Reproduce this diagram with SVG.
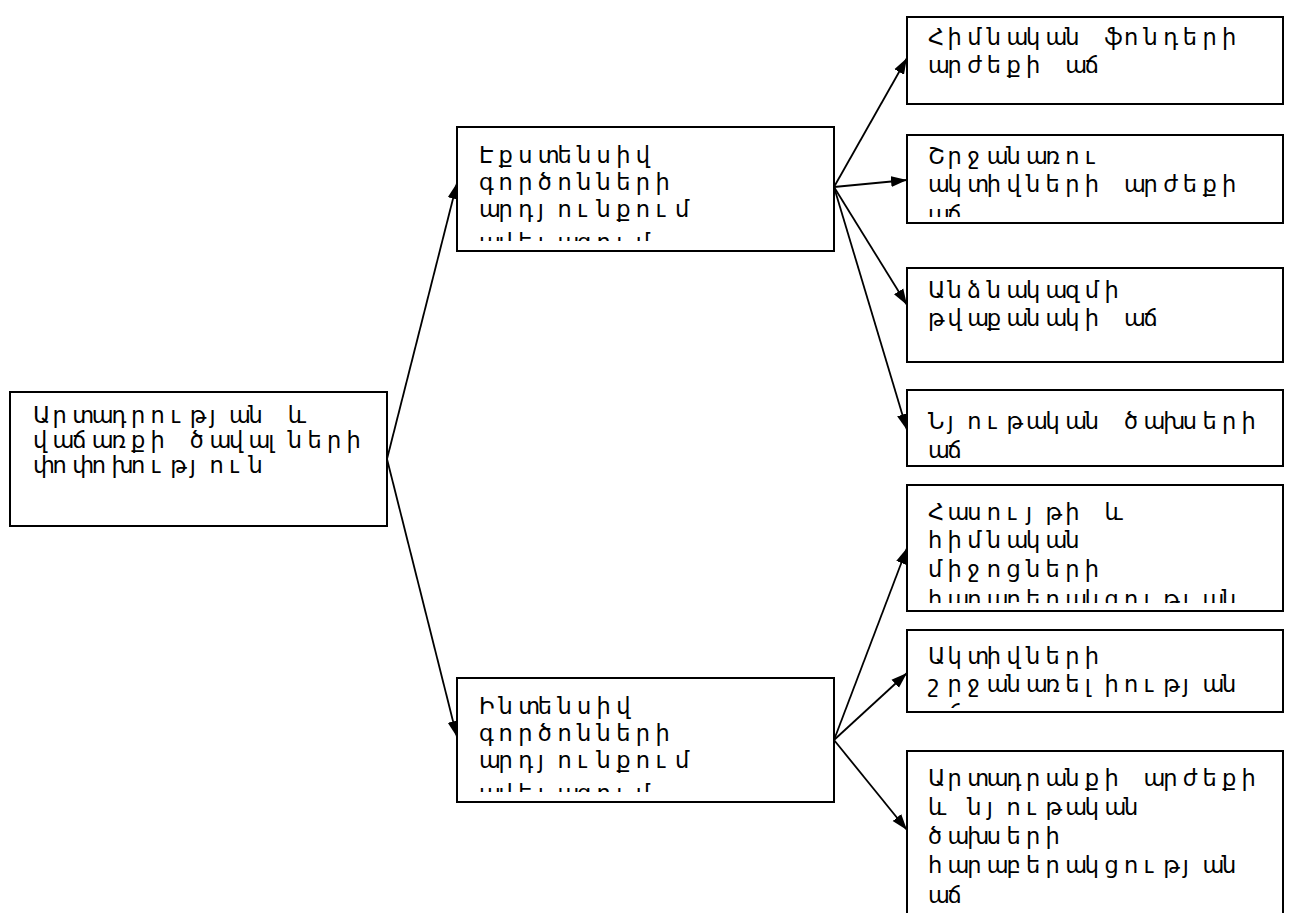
<svg xmlns="http://www.w3.org/2000/svg" width="1289" height="913" viewBox="0 0 1289 913">
  <style>
    .box { fill: #ffffff; stroke: #000000; stroke-width: 2; }
    .lbl { font-family: "DejaVu Sans", "Noto Sans", sans-serif; font-size: 22.5px; fill: #000000; }
    .conn { stroke: #000000; stroke-width: 1.8; fill: none; marker-end: url(#arrow); }
  </style>
  <defs>
    <marker id="arrow" markerUnits="userSpaceOnUse" markerWidth="17" markerHeight="12" refX="16" refY="6" orient="auto">
      <path d="M0,0.5 L16,6 L0,11.5 z" fill="#000000"/>
    </marker>
    <!-- text areas of the boxes that cut off overflowing lines -->
    <clipPath id="clip-ext"><rect x="459" y="129" width="373" height="112"/></clipPath>
    <clipPath id="clip-int"><rect x="459" y="680" width="373" height="112"/></clipPath>
    <clipPath id="clip-r2"><rect x="909" y="137" width="372" height="80"/></clipPath>
    <clipPath id="clip-r5"><rect x="909" y="487" width="372" height="116"/></clipPath>
    <clipPath id="clip-r6"><rect x="909" y="632" width="372" height="76"/></clipPath>
  </defs>

  <g id="connectors">
    <line class="conn" x1="387" y1="459" x2="457" y2="183"/>
    <line class="conn" x1="387" y1="459" x2="457" y2="737"/>
    <line class="conn" x1="834" y1="187" x2="907" y2="58"/>
    <line class="conn" x1="834" y1="187" x2="907" y2="180"/>
    <line class="conn" x1="834" y1="187" x2="907" y2="305"/>
    <line class="conn" x1="834" y1="187" x2="907" y2="430"/>
    <line class="conn" x1="834" y1="740" x2="907" y2="548"/>
    <line class="conn" x1="834" y1="740" x2="907" y2="673"/>
    <line class="conn" x1="834" y1="740" x2="907" y2="830"/>
  </g>

  <g id="node-root">
    <rect class="box" x="10" y="392" width="377" height="134"/>
    <text class="lbl" x="33 52.6 72.2 91.8 111.4 131 150.6 170.2 189.8 209.4 229 248.6 268.2 287.8" y="423">Արտադրության և</text>
    <text class="lbl" x="33 52.6 72.2 91.8 111.4 131 150.6 170.2 189.8 209.4 229 248.6 268.2 287.8 307.4 327 346.6" y="448">վաճառքի ծավալների</text>
    <text class="lbl" x="33 52.6 72.2 91.8 111.4 131 150.6 170.2 189.8 209.4 229 248.6" y="473">փոփոխություն</text>
  </g>

  <g id="node-extensive">
    <rect class="box" x="457" y="127" width="377" height="124"/>
    <g clip-path="url(#clip-ext)">
      <text class="lbl" x="479 498.6 518.2 537.8 557.4 577 596.6 616.2 635.8" y="163">Էքստենսիվ</text>
      <text class="lbl" x="479 498.6 518.2 537.8 557.4 577 596.6 616.2 635.8 655.4" y="190">գործոնների</text>
      <text class="lbl" x="479 498.6 518.2 537.8 557.4 577 596.6 616.2 635.8 655.4 675" y="217">արդյունքում</text>
      <text class="lbl" x="479 498.6 518.2 537.8 557.4 577 596.6 616.2 635.8" y="250">ավելացում</text>
    </g>
  </g>

  <g id="node-intensive">
    <rect class="box" x="457" y="678" width="377" height="124"/>
    <g clip-path="url(#clip-int)">
      <text class="lbl" x="479 498.6 518.2 537.8 557.4 577 596.6 616.2" y="714">Ինտենսիվ</text>
      <text class="lbl" x="479 498.6 518.2 537.8 557.4 577 596.6 616.2 635.8 655.4" y="741">գործոնների</text>
      <text class="lbl" x="479 498.6 518.2 537.8 557.4 577 596.6 616.2 635.8 655.4 675" y="768">արդյունքում</text>
      <text class="lbl" x="479 498.6 518.2 537.8 557.4 577 596.6 616.2 635.8" y="801">ավելացում</text>
    </g>
  </g>

  <g id="node-fixed-assets">
    <rect class="box" x="907" y="17" width="376" height="87"/>
    <text class="lbl" x="928 947.6 967.2 986.8 1006.4 1026 1045.6 1065.2 1084.8 1104.4 1124 1143.6 1163.2 1182.8 1202.4 1222" y="45">Հիմնական ֆոնդերի</text>
    <text class="lbl" x="928 947.6 967.2 986.8 1006.4 1026 1045.6 1065.2 1084.8" y="73">արժեքի աճ</text>
  </g>

  <g id="node-current-assets">
    <rect class="box" x="907" y="135" width="376" height="88"/>
    <g clip-path="url(#clip-r2)">
      <text class="lbl" x="928 947.6 967.2 986.8 1006.4 1026 1045.6 1065.2 1084.8" y="164">Շրջանառու</text>
      <text class="lbl" x="928 947.6 967.2 986.8 1006.4 1026 1045.6 1065.2 1084.8 1104.4 1124 1143.6 1163.2 1182.8 1202.4 1222" y="192">ակտիվների արժեքի</text>
      <text class="lbl" x="928 947.6" y="222">աճ</text>
    </g>
  </g>

  <g id="node-staff">
    <rect class="box" x="907" y="268" width="376" height="94"/>
    <text class="lbl" x="928 947.6 967.2 986.8 1006.4 1026 1045.6 1065.2 1084.8 1104.4" y="298">Անձնակազմի</text>
    <text class="lbl" x="928 947.6 967.2 986.8 1006.4 1026 1045.6 1065.2 1084.8 1104.4 1124 1143.6" y="326">թվաքանակի աճ</text>
  </g>

  <g id="node-material-costs">
    <rect class="box" x="907" y="390" width="376" height="76"/>
    <text class="lbl" x="928 947.6 967.2 986.8 1006.4 1026 1045.6 1065.2 1084.8 1104.4 1124 1143.6 1163.2 1182.8 1202.4 1222 1241.6" y="429">Նյութական ծախսերի</text>
    <text class="lbl" x="928 947.6" y="458">աճ</text>
  </g>

  <g id="node-revenue-ratio">
    <rect class="box" x="907" y="485" width="376" height="126"/>
    <g clip-path="url(#clip-r5)">
      <text class="lbl" x="928 947.6 967.2 986.8 1006.4 1026 1045.6 1065.2 1084.8 1104.4" y="520">Հասույթի և</text>
      <text class="lbl" x="928 947.6 967.2 986.8 1006.4 1026 1045.6 1065.2" y="548">հիմնական</text>
      <text class="lbl" x="928 947.6 967.2 986.8 1006.4 1026 1045.6 1065.2 1084.8" y="577">միջոցների</text>
      <text class="lbl" x="928 947.6 967.2 986.8 1006.4 1026 1045.6 1065.2 1084.8 1104.4 1124 1143.6 1163.2 1182.8 1202.4 1222" y="607">հարաբերակցության</text>
    </g>
  </g>

  <g id="node-turnover">
    <rect class="box" x="907" y="630" width="376" height="82"/>
    <g clip-path="url(#clip-r6)">
      <text class="lbl" x="928 947.6 967.2 986.8 1006.4 1026 1045.6 1065.2 1084.8" y="664">Ակտիվների</text>
      <text class="lbl" x="928 947.6 967.2 986.8 1006.4 1026 1045.6 1065.2 1084.8 1104.4 1124 1143.6 1163.2 1182.8 1202.4 1222" y="692">շրջանառելիության</text>
      <text class="lbl" x="928 947.6" y="721">աճ</text>
    </g>
  </g>

  <g id="node-output-ratio">
    <rect class="box" x="907" y="751" width="376" height="190"/>
    <text class="lbl" x="928 947.6 967.2 986.8 1006.4 1026 1045.6 1065.2 1084.8 1104.4 1124 1143.6 1163.2 1182.8 1202.4 1222 1241.6" y="786">Արտադրանքի արժեքի</text>
    <text class="lbl" x="928 947.6 967.2 986.8 1006.4 1026 1045.6 1065.2 1084.8 1104.4 1124" y="815">և նյութական</text>
    <text class="lbl" x="928 947.6 967.2 986.8 1006.4 1026 1045.6" y="844">ծախսերի</text>
    <text class="lbl" x="928 947.6 967.2 986.8 1006.4 1026 1045.6 1065.2 1084.8 1104.4 1124 1143.6 1163.2 1182.8 1202.4 1222" y="873">հարաբերակցության</text>
    <text class="lbl" x="928 947.6" y="903">աճ</text>
  </g>
</svg>
